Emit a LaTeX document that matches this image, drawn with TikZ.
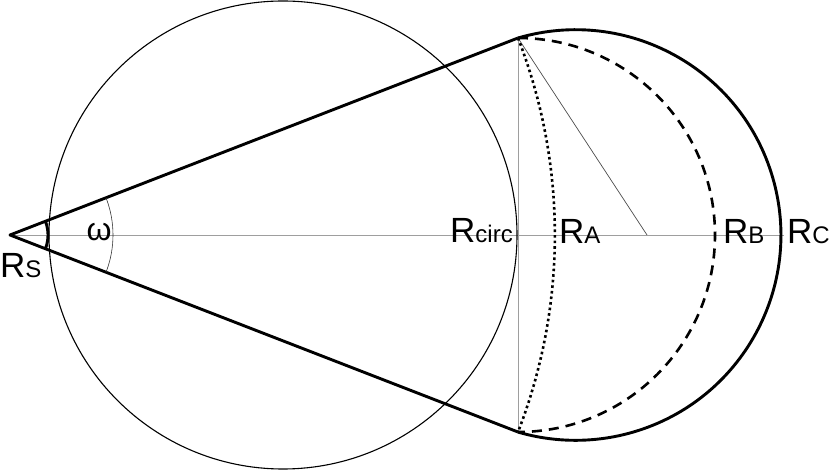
\documentclass[tikz,border=0pt]{standalone}
\usepackage{fontspec}
\setmainfont{Liberation Sans}
\begin{document}
\begin{tikzpicture}[x=1pt,y=1pt,
  thickline/.style={line width=2.9pt,line join=round},
  thincircle/.style={line width=1.1pt},
  axisline/.style={line width=0.8pt,draw=black!38},
  radline/.style={line width=0.7pt,draw=black!70},
  dashedarc/.style={line width=2.6pt,dash pattern=on 10pt off 7pt},
  dottedarc/.style={line width=2.6pt,dash pattern=on 2.6pt off 3pt},
  lab/.style={anchor=base west,inner sep=0pt,font=\fontsize{35}{40}\selectfont}]
\useasboundingbox (0,0) rectangle (830,471);
\coordinate (Rs) at (10,236);
\coordinate (T) at (518,433);
\coordinate (B) at (518,39);
\coordinate (Cbig) at (283,236);
\coordinate (Cend) at (647,236);
\coordinate (Aend) at (784,236);
% axis and vertical chord
\draw[axisline] (Rs) -- (Aend);
\draw[axisline] (T) -- (B);
% big circle
\draw[thincircle] (Cbig) circle[radius=234];
% thin radius line
\draw[radline] (T) -- (Cend);
% lines from the source point
\draw[thickline] (B) -- (Rs) -- (T);
% arcs
\draw[thickline] (T) arc[start angle=106.3,end angle=-106.3,radius=205.3];
\draw[dashedarc] (T) arc[start angle=90,end angle=-90,radius=197];
\draw[dottedarc] (T) arc[start angle=21.2,end angle=-21.2,radius=544.9];
% angle arcs
\draw[thickline] ([shift={(21.2:38)}]Rs) arc[start angle=21.2,end angle=-21.2,radius=38];
\draw[line width=0.6pt,draw=black!80] ([shift={(21.2:103)}]Rs) arc[start angle=21.2,end angle=-21.2,radius=103];
% labels
\node[inner sep=0pt,font=\fontsize{32}{36}\selectfont] (om) at (99,239) {ω};
\node[lab] (ls) at (0,193) {R{\fontsize{24}{28}\selectfont S}};
\node[lab] (lc) at (450,228) {R{\fontsize{24}{28}\selectfont circ}};
\node[lab] (la) at (559,227) {R{\fontsize{24}{28}\selectfont A}};
\node[lab] (lb) at (723,227) {R{\fontsize{24}{28}\selectfont B}};
\node[lab] (lcc) at (787,227) {R{\fontsize{24}{28}\selectfont C}};
\end{tikzpicture}
\end{document}
